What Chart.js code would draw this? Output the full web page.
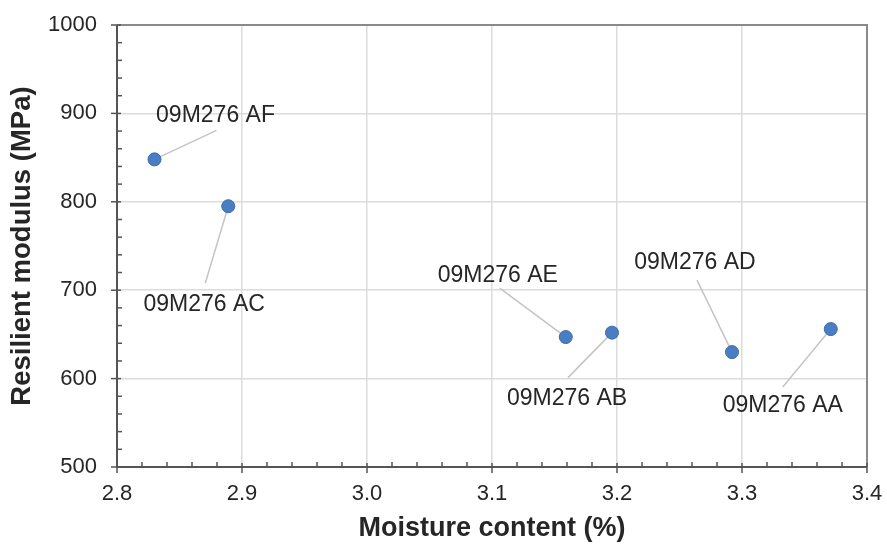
<!DOCTYPE html>
<html>
<head>
<meta charset="utf-8">
<script src="https://cdn.jsdelivr.net/npm/chart.js@4/dist/chart.umd.min.js"></script>
<style>
  html, body { margin: 0; padding: 0; background: #ffffff; }
  #wrap { width: 887px; height: 547px; }
</style>
</head>
<body>
<div id="wrap"><canvas id="c" width="887" height="547"></canvas></div>
<script>
// ---- data ----
const sampleNames = ['09M276 AF', '09M276 AC', '09M276 AE', '09M276 AB', '09M276 AD', '09M276 AA'];
const moisture = [2.830, 2.889, 3.159, 3.196, 3.292, 3.371];
const modulus = [848, 795, 647, 652, 630, 656];
const xTickLabels = ['2.8', '2.9', '3.0', '3.1', '3.2', '3.3', '3.4'];
const yTickLabels = ['500', '600', '700', '800', '900', '1000'];
const xTitle = 'Moisture content (%)';
const yTitle = 'Resilient modulus (MPa)';

// ---- label placement (pixel offsets from each point: text centre, leader end) ----
const labelTextOffset = [[61, -44], [-24, 98], [-68, -61], [-45, 66], [-37, -89], [-48, 77]];
const labelLeaderOffset = [[62, -29], [-23, 77], [-66, -49], [-44, 45], [-35, -72], [-48, 58]];

const FONT = "'Liberation Sans', Arial, sans-serif";

const points = moisture.map((x, i) => ({ x: x, y: modulus[i] }));

const decorPlugin = {
  id: 'decor',
  beforeDatasetsDraw(chart) {
    const ctx = chart.ctx;
    const meta = chart.getDatasetMeta(0);
    ctx.save();
    ctx.strokeStyle = '#c4c4c4';
    ctx.lineWidth = 1.5;
    meta.data.forEach((el, i) => {
      const o = labelLeaderOffset[i];
      ctx.beginPath();
      ctx.moveTo(el.x, el.y);
      ctx.lineTo(el.x + o[0], el.y + o[1]);
      ctx.stroke();
    });
    ctx.restore();
  },
  afterDatasetsDraw(chart) {
    const ctx = chart.ctx;
    const meta = chart.getDatasetMeta(0);
    ctx.save();
    ctx.fillStyle = '#262626';
    ctx.font = '23px ' + FONT;
    ctx.textAlign = 'center';
    ctx.textBaseline = 'middle';
    meta.data.forEach((el, i) => {
      const o = labelTextOffset[i];
      ctx.fillText(sampleNames[i], el.x + o[0], el.y + o[1]);
    });
    ctx.restore();
  },
  afterDraw(chart) {
    const ctx = chart.ctx;
    const a = chart.chartArea;
    const xs = chart.scales.x, ys = chart.scales.y;
    ctx.save();
    // top/right frame
    ctx.strokeStyle = '#8a8a8a';
    ctx.lineWidth = 2;
    ctx.beginPath();
    ctx.moveTo(a.left, a.top);
    ctx.lineTo(a.right, a.top);
    ctx.lineTo(a.right, a.bottom);
    ctx.stroke();
    // left/bottom axes
    ctx.strokeStyle = '#555555';
    ctx.beginPath();
    ctx.moveTo(a.left, a.top);
    ctx.lineTo(a.left, a.bottom);
    ctx.lineTo(a.right, a.bottom);
    ctx.stroke();
    // ticks
    ctx.lineWidth = 1.5;
    for (let k = 0; k <= 25; k++) {
      const v = 500 + k * 20;
      const py = ys.getPixelForValue(v);
      ctx.beginPath();
      if (k % 5 === 0) { ctx.moveTo(a.left - 6, py); ctx.lineTo(a.left + 4, py); }
      else { ctx.moveTo(a.left, py); ctx.lineTo(a.left + 5, py); }
      ctx.stroke();
    }
    for (let k = 0; k <= 30; k++) {
      const v = 2.8 + k * 0.02;
      const px = xs.getPixelForValue(v);
      ctx.beginPath();
      if (k % 5 === 0) { ctx.moveTo(px, a.bottom + 6); ctx.lineTo(px, a.bottom - 4); }
      else { ctx.moveTo(px, a.bottom); ctx.lineTo(px, a.bottom - 5); }
      ctx.stroke();
    }
    ctx.restore();
  }
};

new Chart(document.getElementById('c'), {
  type: 'scatter',
  data: {
    datasets: [{
      data: points,
      backgroundColor: '#4a7ec2',
      borderColor: '#3b6aab',
      borderWidth: 1,
      pointRadius: 6.5,
      pointHoverRadius: 6.5
    }]
  },
  options: {
    responsive: false,
    animation: false,
    devicePixelRatio: 1,
    layout: { padding: { top: 25, right: 20, left: 0, bottom: 0 } },
    plugins: { legend: { display: false }, tooltip: { enabled: false } },
    scales: {
      x: {
        type: 'linear',
        min: 2.8, max: 3.4,
        afterFit(s) { s.height = 80; s.paddingLeft = 0; s.paddingRight = 0; },
        ticks: {
          stepSize: 0.1,
          padding: 14,
          color: '#262626',
          font: { family: FONT, size: 22 },
          callback: (v, i) => xTickLabels[i]
        },
        grid: { color: '#dcdcdc', lineWidth: 1.5, drawTicks: false },
        border: { display: false },
        title: {
          display: true,
          text: xTitle,
          color: '#262626',
          font: { family: FONT, size: 27, weight: 'bold' },
          padding: { top: 0, bottom: 2 }
        }
      },
      y: {
        type: 'linear',
        min: 500, max: 1000,
        afterFit(s) { s.width = 117; s.paddingTop = 0; s.paddingBottom = 0; },
        ticks: {
          stepSize: 100,
          padding: 20,
          color: '#262626',
          font: { family: FONT, size: 22 },
          callback: (v, i) => yTickLabels[i]
        },
        grid: { color: '#dcdcdc', lineWidth: 1.5, drawTicks: false },
        border: { display: false },
        title: {
          display: true,
          text: yTitle,
          color: '#262626',
          font: { family: FONT, size: 27.5, weight: 'bold' },
          padding: { top: 6, bottom: 0 }
        }
      }
    }
  },
  plugins: [decorPlugin]
});
</script>
</body>
</html>
